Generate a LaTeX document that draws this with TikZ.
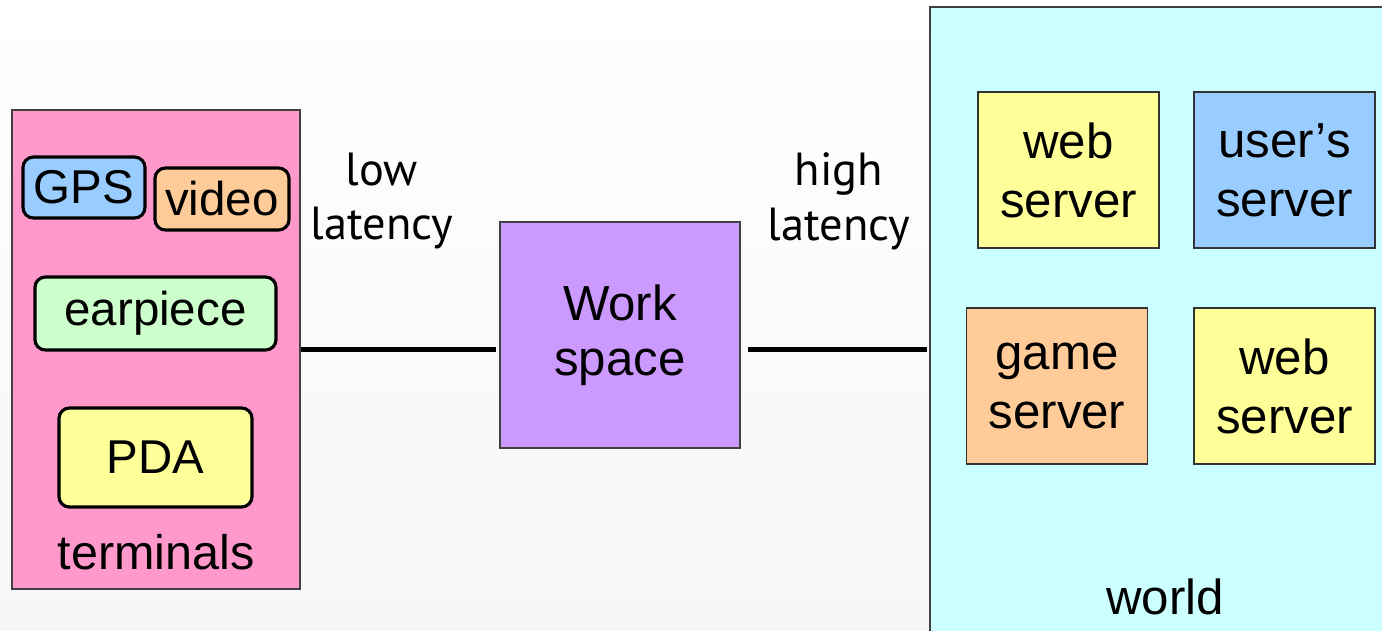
\documentclass[tikz,border=0pt]{standalone}
\usepackage{fontspec}
\setmainfont{Liberation Sans}
\newfontfamily\gillfont{PT Sans}
\usetikzlibrary{calc}

\definecolor{termpink}{HTML}{FF99CC}
\definecolor{worldcyan}{HTML}{CCFFFF}
\definecolor{wslilac}{HTML}{CC99FF}
\definecolor{boxblue}{HTML}{99CCFF}
\definecolor{boxorange}{HTML}{FFCC99}
\definecolor{boxgreen}{HTML}{CCFFCC}
\definecolor{boxyellow}{HTML}{FFFF99}

\tikzset{
  area/.style={draw=black!75, line width=0.5pt, inner sep=0pt},
  device/.style={draw=black, line width=0.9pt, rounded corners=3pt, inner sep=0pt,
    font=\fontsize{13.5}{15.5}\selectfont},
  server/.style={draw=black!80, line width=0.5pt, inner sep=0pt, align=center,
    minimum width=1.81cm, minimum height=1.56cm, font=\fontsize{14}{16.8}\selectfont},
  link/.style={line width=1.2pt, line cap=butt},
  caption/.style={inner sep=0pt, align=center},
}

\begin{document}
\begin{tikzpicture}[x=0.01cm, y=-0.01cm]

      \clip (0,0) rectangle (1382,630);
      \fill[top color=white, bottom color=gray!7] (0,0) rectangle (1382,630);

      % big areas
      \node[area, fill=termpink, minimum width=2.88cm, minimum height=4.79cm] (terminals) at (156,349.5) {};
      \node[area, fill=worldcyan, minimum width=4.7cm, minimum height=6.43cm] (world) at (1165,328.5) {};
      \node[area, fill=wslilac, minimum width=2.4cm, minimum height=2.26cm, align=center,
        font=\fontsize{14}{15.6}\selectfont] (workspace) at (620,335) {Work\\space};

      % terminals
      \begin{scope}[every node/.style={device}]
        \node[fill=boxblue, minimum width=1.22cm, minimum height=0.61cm] (gps) at (84,187.5) {GPS};
        \node[fill=boxorange, minimum width=1.34cm, minimum height=0.62cm] (video) at (222,199) {video};
        \node[fill=boxgreen, minimum width=2.41cm, minimum height=0.73cm] (earpiece) at (155.5,313.5) {earpiece};
        \node[fill=boxyellow, minimum width=1.93cm, minimum height=0.99cm] (pda) at (155.5,457.5) {PDA};
      \end{scope}

      % servers
      \begin{scope}[every node/.style={server}]
        \node[fill=boxyellow] (web1)  at (1068.5,170) {web\\server};
        \node[fill=boxblue]   (users) at (1284.5,170) {user’s\\server};
        \node[fill=boxorange] (game)  at (1057,386)   {game\\server};
        \node[fill=boxyellow] (web2)  at (1284.5,386) {web\\server};
      \end{scope}

      % labels
      \node[caption, font=\fontsize{13.8}{15.4}\selectfont] (termlabel) at (156,552) {terminals};
      \node[caption, font=\fontsize{14}{16.8}\selectfont] (worldlabel) at (1165,597) {world};
      \begin{scope}[every node/.style={caption, font=\gillfont\fontsize{13.2}{15.6}\selectfont}]
        \node (low)  at (382,201) {low\\latency};
        \node (high) at (839,201) {high\\latency};
      \end{scope}

      % links
      \draw[link, shorten >=1pt] (terminals.east) -- (terminals.east -| workspace.west);
      \draw[link, shorten <=2pt, shorten >=0.6pt] (workspace.east |- terminals.east) -- (terminals.east -| world.west);

    \end{tikzpicture}
\end{document}
